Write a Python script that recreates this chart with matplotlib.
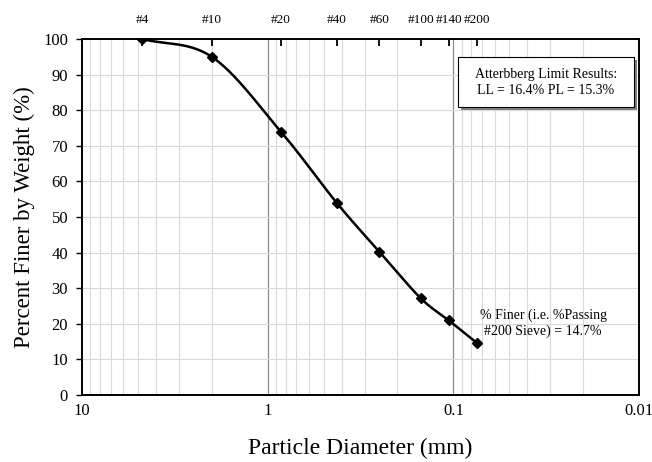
import numpy as np
import matplotlib.pyplot as plt
from matplotlib.ticker import FixedLocator, NullFormatter
from matplotlib.patches import Rectangle
import matplotlib.patheffects as pe

# sieve data
sieve_names = ['#4', '#10', '#20', '#40', '#60', '#100', '#140', '#200']
sieve_mm = [4.75, 2.0, 0.85, 0.425, 0.25, 0.15, 0.106, 0.075]
pct_finer = [100, 95, 74, 54, 40.2, 27.2, 21, 14.7]

plt.rcParams['font.family'] = 'Liberation Serif'

fig = plt.figure(figsize=(6.52, 4.62), dpi=100)
ax = fig.add_axes([82 / 652, 1 - 395 / 462, 557 / 652, 356 / 462])


def smooth_curve(xs, ys, n=30):
    # Catmull-Rom style smoothing in log-x space (like a spreadsheet smoothed line)
    lx = np.log10(xs)
    y = np.asarray(ys, dtype=float)
    px = np.concatenate([[2 * lx[0] - lx[1]], lx, [2 * lx[-1] - lx[-2]]])
    py = np.concatenate([[2 * y[0] - y[1]], y, [2 * y[-1] - y[-2]]])
    out_x, out_y = [], []
    t = np.linspace(0, 1, n)
    for i in range(1, len(px) - 2):
        p0, p1, p2, p3 = px[i - 1], px[i], px[i + 1], px[i + 2]
        q0, q1, q2, q3 = py[i - 1], py[i], py[i + 1], py[i + 2]
        cx = 0.5 * (2 * p1 + (-p0 + p2) * t + (2 * p0 - 5 * p1 + 4 * p2 - p3) * t ** 2 + (-p0 + 3 * p1 - 3 * p2 + p3) * t ** 3)
        cy = 0.5 * (2 * q1 + (-q0 + q2) * t + (2 * q0 - 5 * q1 + 4 * q2 - q3) * t ** 2 + (-q0 + 3 * q1 - 3 * q2 + q3) * t ** 3)
        out_x.extend(cx)
        out_y.extend(cy)
    return 10 ** np.array(out_x), np.array(out_y)


ax.set_xscale('log')
ax.set_xlim(10, 0.01)
ax.set_ylim(0, 100)

# grid
minor = [m * 10.0 ** e for e in (-2, -1, 0) for m in range(2, 10)]
for v in minor:
    ax.axvline(v, color='#d9d9d9', lw=0.8, zorder=0)
for v in [1, 0.1]:
    ax.axvline(v, color='#8c8c8c', lw=0.9, zorder=0)
for v in range(10, 100, 10):
    ax.axhline(v, color='#d9d9d9', lw=0.8, zorder=0)

sx, sy = smooth_curve(sieve_mm, pct_finer)
ax.plot(sx, sy, color='black', lw=1.8, zorder=3)
ax.plot(sieve_mm, pct_finer, linestyle='none', marker='D', ms=5.5, color='black', zorder=4)

ax.set_xticks([10, 1, 0.1, 0.01])
ax.set_xticklabels(['10', '1', '0.1', '0.01'])
ax.xaxis.set_minor_locator(FixedLocator([]))
ax.xaxis.set_minor_formatter(NullFormatter())
ax.set_yticks(range(0, 101, 10))
ax.tick_params(axis='both', labelsize=12, length=0, pad=6)
ax.tick_params(axis='y', direction='out', length=4, width=1)

for s in ax.spines.values():
    s.set_linewidth(1.4)
    s.set_color('black')

# top sieve axis
top = ax.secondary_xaxis('top')
top.set_xticks(sieve_mm)
top.set_xticklabels(sieve_names)
top.tick_params(direction='in', length=5, width=1.3, labelsize=9.5, pad=9)
top.xaxis.set_minor_locator(FixedLocator([]))
top.spines['top'].set_visible(False)

ax.set_xlabel('Particle Diameter (mm)', fontsize=17, labelpad=13)
ax.set_ylabel('Percent Finer by Weight (%)', fontsize=16.5, labelpad=6)

box = Rectangle((0.675, 0.809), 0.316, 0.140, transform=ax.transAxes, fc='white', ec='black',
                lw=0.8, zorder=5,
                path_effects=[pe.SimplePatchShadow(offset=(2, -2), shadow_rgbFace='#7f7f7f', alpha=1), pe.Normal()])
ax.add_patch(box)
ax.text(0.833, 0.879, 'Atterbberg Limit Results:\nLL = 16.4% PL = 15.3%', transform=ax.transAxes,
        ha='center', va='center', fontsize=10, linespacing=1.3, zorder=6)

ax.text(0.828, 0.202, '% Finer (i.e. %Passing\n#200 Sieve) = 14.7%', transform=ax.transAxes,
        ha='center', va='center', fontsize=10, linespacing=1.2, zorder=6)

fig.savefig('out.png', dpi=100)
